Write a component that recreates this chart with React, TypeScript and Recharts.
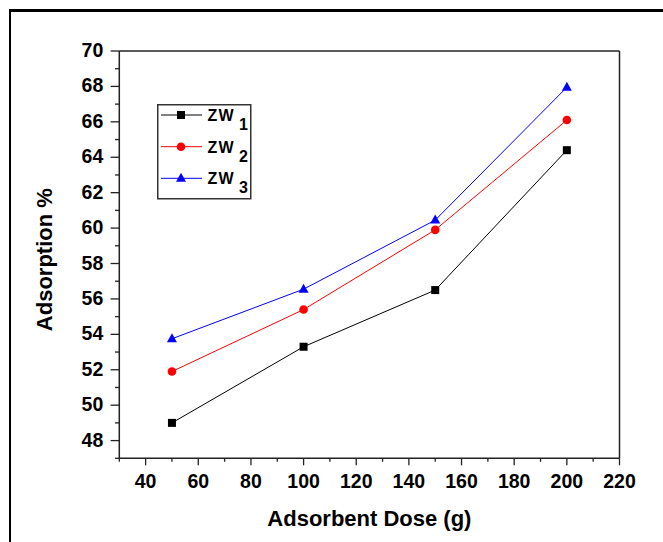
import React from 'react';
import { LineChart, Line, XAxis, YAxis, ReferenceLine, Label, Legend } from 'recharts';

// ---- data ----
const doses = [50, 100, 150, 200];
const zw1 = [49.0, 53.3, 56.5, 64.4];
const zw2 = [51.9, 55.4, 59.9, 66.1];
const zw3 = [53.75, 56.55, 60.45, 67.95];

const xTicks = [30, 40, 50, 60, 70, 80, 90, 100, 110, 120, 130, 140, 150, 160, 170, 180, 190, 200, 210, 220];
const yTicks = [47, 48, 49, 50, 51, 52, 53, 54, 55, 56, 57, 58, 59, 60, 61, 62, 63, 64, 65, 66, 67, 68, 69, 70];

const seriesKeys = ['zw1', 'zw2', 'zw3'];
const seriesBase = ['ZW', 'ZW', 'ZW'];
const seriesSub = ['1', '2', '3'];
const seriesColors = ['#000000', '#ff0000', '#0000ff'];
const seriesShapes = ['square', 'circle', 'triangle'];

const xTitle = 'Adsorbent Dose (g)';
const yTitle = 'Adsorption %';

const data = doses.map((d, i) => ({ dose: d, zw1: zw1[i], zw2: zw2[i], zw3: zw3[i] }));

const FONT = '"Liberation Sans", Arial, sans-serif';
const AXIS = '#222';

const Marker = ({ shape, cx, cy, color }: any) => {
  if (cx == null || cy == null) return null;
  if (shape === 'square') return <rect x={cx - 4} y={cy - 4} width={8} height={8} fill={color} />;
  if (shape === 'circle') return <circle cx={cx} cy={cy} r={4.3} fill={color} />;
  return <polygon points={`${cx},${cy - 5.5} ${cx - 5},${cy + 3.5} ${cx + 5},${cy + 3.5}`} fill={color} />;
};

const XTick = (props: any) => {
  const { x, y, payload } = props;
  const v = payload.value;
  const major = v % 20 === 0;
  return (
    <g>
      <line x1={x} y1={y} x2={x} y2={y + (major ? 7 : 3.5)} stroke={AXIS} strokeWidth={1.3} />
      {major && (
        <text x={x} y={y + 30} textAnchor="middle" fontFamily={FONT} fontWeight="bold" fontSize={19.5} fill="#000">
          {v}
        </text>
      )}
    </g>
  );
};

const YTick = (props: any) => {
  const { x, y, payload } = props;
  const v = payload.value;
  const major = v % 2 === 0;
  return (
    <g>
      <line x1={x} y1={y} x2={x - (major ? 8.7 : 4.3)} y2={y} stroke={AXIS} strokeWidth={1.3} />
      {major && (
        <text x={x - 16} y={y + 6} textAnchor="end" fontFamily={FONT} fontWeight="bold" fontSize={19.5} fill="#000">
          {v}
        </text>
      )}
    </g>
  );
};

const LegendBox = () => {
  const rows = [11, 42.7, 74.3];
  return (
    <svg width={96} height={98} style={{ display: 'block' }}>
      <rect x={0.75} y={0.75} width={93} height={94} fill="#fff" stroke="#333" strokeWidth={1.5} />
      {seriesKeys.map((k, i) => {
        const ry = rows[i];
        return (
          <g key={k}>
            <line x1={4} y1={ry} x2={45} y2={ry} stroke={seriesColors[i]} strokeWidth={1} />
            <Marker shape={seriesShapes[i]} cx={24} cy={ry} color={seriesColors[i]} />
            <text x={50.5} y={ry + 6} fontFamily={FONT} fontWeight="bold" fontSize={16} letterSpacing={1.2} fill="#000">
              {seriesBase[i]}
            </text>
            <text x={82} y={ry + 15} fontFamily={FONT} fontWeight="bold" fontSize={16} fill="#000">
              {seriesSub[i]}
            </text>
          </g>
        );
      })}
    </svg>
  );
};

export default function App() {
  return (
    <div style={{ position: 'fixed', left: 0, top: 0, width: 663, height: 542, overflow: 'hidden', background: '#fff' }}>
      <div
        style={{
          position: 'absolute',
          left: 8.5,
          top: 9,
          width: 720,
          height: 600,
          borderLeft: '2.5px solid #000',
          borderTop: '3px solid #000',
        }}
      />
      <div style={{ position: 'absolute', left: 0, top: 0 }}>
        <LineChart width={663} height={542} data={data} margin={{ top: 51, right: 43.5, bottom: 0, left: 0 }}>
          <XAxis
            dataKey="dose"
            type="number"
            domain={[30, 220]}
            ticks={xTicks}
            interval={0}
            height={83.7}
            tickSize={0}
            tickMargin={0}
            tickLine={false}
            tick={<XTick />}
            axisLine={{ stroke: AXIS, strokeWidth: 1.5 }}
          >
            <Label
              content={(p: any) => {
                const vb = p.viewBox || {};
                return (
                  <text x={vb.x + vb.width / 2} y={vb.y + 68} textAnchor="middle" fontFamily={FONT} fontWeight="bold" fontSize={22} fill="#000">
                    {xTitle}
                  </text>
                );
              }}
            />
          </XAxis>
          <YAxis
            type="number"
            domain={[47, 70]}
            ticks={yTicks}
            interval={0}
            width={119.3}
            tickSize={0}
            tickMargin={0}
            tickLine={false}
            tick={<YTick />}
            axisLine={{ stroke: AXIS, strokeWidth: 1.5 }}
          >
            <Label
              content={(p: any) => {
                const vb = p.viewBox || {};
                const cx = vb.x + 52;
                const cy = vb.y + vb.height / 2 + 5;
                return (
                  <text x={cx} y={cy} transform={`rotate(-90, ${cx}, ${cy})`} textAnchor="middle" fontFamily={FONT} fontWeight="bold" fontSize={22} fill="#000">
                    {yTitle}
                  </text>
                );
              }}
            />
          </YAxis>
          <ReferenceLine y={70} stroke={AXIS} strokeWidth={1.5} />
          <ReferenceLine x={220} stroke={AXIS} strokeWidth={1.5} />
          {seriesKeys.map((k, i) => (
            <Line
              key={k}
              dataKey={k}
              name={seriesBase[i] + seriesSub[i]}
              stroke={seriesColors[i]}
              strokeWidth={1}
              isAnimationActive={false}
              activeDot={false}
              dot={(p: any) => <Marker key={`${k}-${p.index}`} shape={seriesShapes[i]} cx={p.cx} cy={p.cy} color={seriesColors[i]} />}
            />
          ))}
          <Legend
            layout="vertical"
            align="center"
            verticalAlign="middle"
            content={() => <LegendBox />}
            wrapperStyle={{ left: 157, top: 103.5, width: 96, height: 98, margin: 0 }}
          />
        </LineChart>
      </div>
    </div>
  );
}
